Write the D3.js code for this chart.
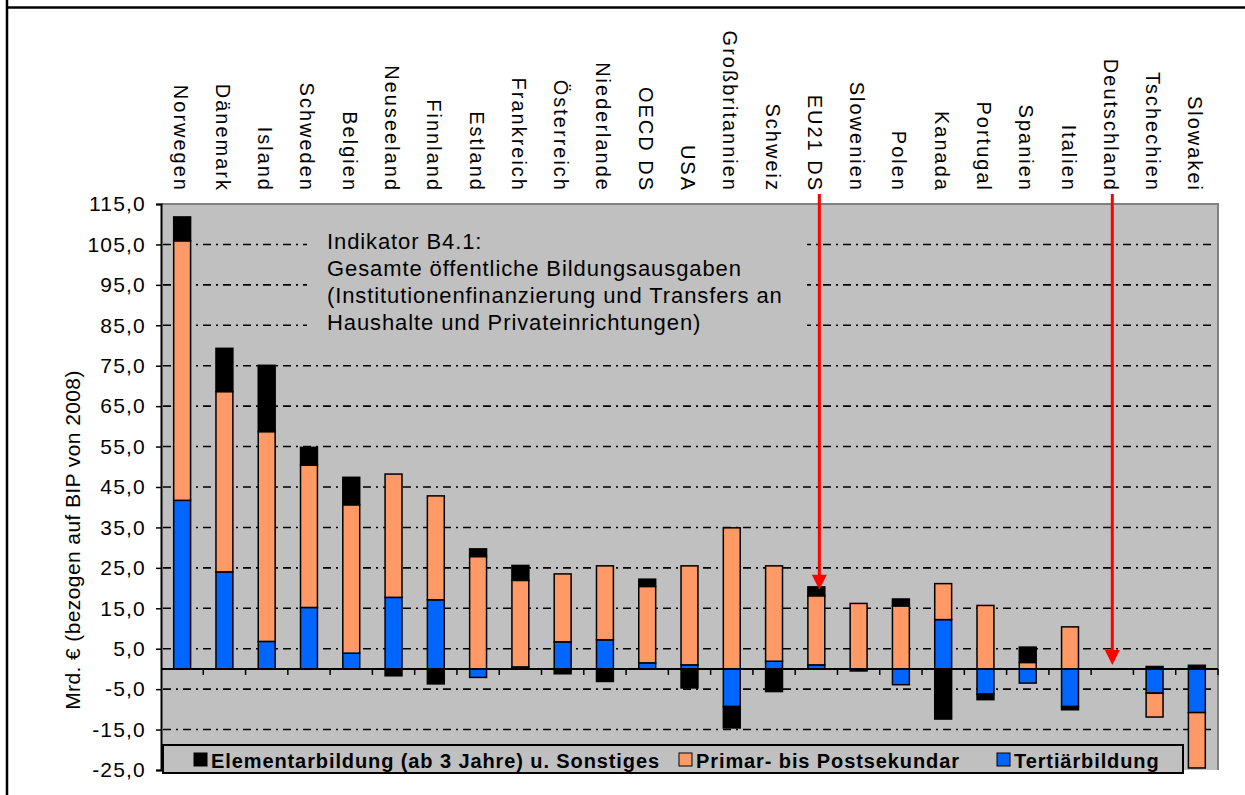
<!DOCTYPE html>
<html>
<head>
<meta charset="utf-8">
<script src="https://cdn.jsdelivr.net/npm/d3@7"></script>
<style>
  html, body { margin: 0; padding: 0; background: #fff; }
  svg { display: block; font-family: "Liberation Sans", Arial, sans-serif; }
</style>
</head>
<body>
<svg id="chart" width="1245" height="795"></svg>
<script>
// ---------- data ----------
const categories = ["Norwegen","Dänemark","Island","Schweden","Belgien","Neuseeland","Finnland","Estland","Frankreich","Österreich","Niederlande","OECD DS","USA","Großbritannien","Schweiz","EU21 DS","Slowenien","Polen","Kanada","Portugal","Spanien","Italien","Deutschland","Tschechien","Slowakei"];
const tertiar   = [41.7, 24.0, 6.8, 15.2, 3.9, 17.7, 17.1, -2.1, 0.5, 6.7, 7.2, 1.5, 1.0, -9.3, 1.9, 1.0, 0.0, -3.9, 12.2, -6.2, -3.5, -9.3, 0.0, -6.0, -10.8];
const primar    = [64.2, 44.6, 51.9, 35.2, 36.7, 30.5, 25.7, 27.8, 21.4, 16.8, 18.3, 18.9, 24.5, 34.9, 23.6, 17.1, 16.2, 15.6, 8.9, 15.7, 1.6, 10.4, 0.0, -5.9, -13.7];
const elementar = [5.9, 10.7, 16.4, 4.4, 6.8, -1.7, -3.7, 1.9, 3.7, -1.2, -3.1, 1.8, -4.7, -5.3, -5.6, 2.2, -0.5, 1.7, -12.4, -1.4, 3.8, -0.8, 0.0, 0.6, 0.9];
const seriesNames = ["Elementarbildung (ab 3 Jahre) u. Sonstiges", "Primar- bis Postsekundar", "Tertiärbildung"];
const yTicks = [-25, -15, -5, 5, 15, 25, 35, 45, 55, 65, 75, 85, 95, 105, 115];
const yTitle = "Mrd. € (bezogen auf BIP von 2008)";
const noteLines = ["Indikator B4.1:", "Gesamte öffentliche Bildungsausgaben", "(Institutionenfinanzierung und Transfers an", "Haushalte und Privateinrichtungen)"];
const arrowCats = ["EU21 DS", "Deutschland"];
const arrowTips = [19.6, 1.0];

// ---------- setup ----------
const colors = { tertiar: "#0066FF", primar: "#FF9966", elementar: "#000000" };
const svg = d3.select("#chart");
const L = 161, R = 1218, T = 204, B = 770;

const loc = d3.formatLocale({ decimal: ",", thousands: ".", grouping: [3], currency: ["", "€"], minus: "-" });
const fmt = loc.format(".1f");

const x = d3.scaleBand().domain(categories).range([L, R]).paddingInner(0.6).paddingOuter(0.3);
const step = x.step();
const cx = c => x(c) + x.bandwidth() / 2;
const y = d3.scaleLinear().domain([-25, 115]).range([B, T]);

// outer frame
svg.append("line").attr("x1", 7).attr("x2", 7).attr("y1", 0).attr("y2", 795).attr("stroke", "#000").attr("stroke-width", 2.5);
svg.append("line").attr("x1", 7).attr("x2", 1245).attr("y1", 7.5).attr("y2", 7.5).attr("stroke", "#000").attr("stroke-width", 2.5);

// plot background
svg.append("rect").attr("x", L).attr("y", T).attr("width", R - L).attr("height", B - T).attr("fill", "#C0C0C0");
svg.append("path").attr("d", `M${L},${T}H${R}V${B}`).attr("fill", "none").attr("stroke", "#808080").attr("stroke-width", 2);

// gridlines
svg.append("g").selectAll("line").data(yTicks.filter(v => v > -25 && v < 115)).join("line")
  .attr("x1", L + 2).attr("x2", R - 5)
  .attr("y1", d => y(d)).attr("y2", d => y(d))
  .attr("stroke", "#000").attr("stroke-width", 1.6).attr("stroke-dasharray", "8,5,2,5");

// note box (covers grid)
svg.append("rect").attr("x", 307).attr("y", 215).attr("width", 500).attr("height", 135).attr("fill", "#C0C0C0");
svg.append("g").selectAll("text").data(noteLines).join("text")
  .attr("x", 327).attr("y", (d, i) => 249 + i * 27)
  .attr("font-size", 22).attr("letter-spacing", 0.9).attr("fill", "#000").text(d => d);

// stacked bars
const rows = categories.map((c, i) => ({ cat: c, tertiar: tertiar[i], primar: primar[i], elementar: elementar[i] }));
const stack = d3.stack().keys(["tertiar", "primar", "elementar"]).offset(d3.stackOffsetDiverging);
const stacked = stack(rows);
svg.append("g").selectAll("g").data(stacked).join("g")
  .attr("fill", d => colors[d.key])
  .selectAll("rect").data(d => d.filter(p => p[1] - p[0] !== 0)).join("rect")
  .attr("x", d => x(d.data.cat))
  .attr("width", x.bandwidth())
  .attr("y", d => y(Math.max(d[0], d[1])))
  .attr("height", d => Math.abs(y(d[0]) - y(d[1])))
  .attr("stroke", "#000").attr("stroke-width", 1.5);

// zero line with category ticks
svg.append("line").attr("x1", L).attr("x2", R).attr("y1", y(0)).attr("y2", y(0)).attr("stroke", "#000").attr("stroke-width", 2);
svg.append("g").selectAll("line").data(categories).join("line")
  .attr("x1", d => x(d) - x.bandwidth() * 0.75 + step).attr("x2", d => x(d) - x.bandwidth() * 0.75 + step)
  .attr("y1", y(0)).attr("y2", y(0) + 6)
  .attr("stroke", "#000").attr("stroke-width", 1.5);

// y axis
const yAxis = svg.append("g").attr("transform", `translate(${L},0)`)
  .call(d3.axisLeft(y).tickValues(yTicks).tickFormat(fmt).tickSize(5).tickPadding(10));
yAxis.select(".domain").attr("stroke", "#000").attr("stroke-width", 2);
yAxis.selectAll(".tick line").attr("stroke", "#000").attr("stroke-width", 1.5);
yAxis.selectAll(".tick text").attr("font-size", 21).attr("letter-spacing", 1.2).attr("fill", "#000")
  .attr("font-family", "Liberation Sans, Arial, sans-serif");

// y title
svg.append("text").attr("transform", "translate(80,540) rotate(-90)")
  .attr("text-anchor", "middle").attr("font-size", 21).attr("letter-spacing", 0.4).attr("fill", "#000").text(yTitle);

// category labels
svg.append("g").selectAll("text").data(categories).join("text")
  .attr("transform", d => `translate(${cx(d)},192) rotate(90)`)
  .attr("text-anchor", "end").attr("dy", "8.5").attr("font-size", 20)
  .attr("letter-spacing", 2).attr("fill", "#000").text(d => d);

// red arrows
const arrowG = svg.append("g");
arrowCats.forEach((c, i) => {
  const ax = cx(c) + (c === "EU21 DS" ? 3 : 0);
  const tip = y(arrowTips[i]);
  arrowG.append("line").attr("x1", ax).attr("x2", ax).attr("y1", 194).attr("y2", tip - 12)
    .attr("stroke", "#FF0000").attr("stroke-width", 3);
  arrowG.append("path").attr("d", `M${ax - 7.5},${tip - 15}L${ax + 7.5},${tip - 15}L${ax},${tip}Z`).attr("fill", "#FF0000");
});

// legend
const lg = svg.append("g");
lg.append("rect").attr("x", 163).attr("y", 745).attr("width", 1020).attr("height", 28)
  .attr("fill", "#C0C0C0").attr("stroke", "#000").attr("stroke-width", 2);
const legendItems = [
  { name: seriesNames[0], color: colors.elementar, x: 194 },
  { name: seriesNames[1], color: colors.primar, x: 679 },
  { name: seriesNames[2], color: colors.tertiar, x: 997 }
];
legendItems.forEach(it => {
  lg.append("rect").attr("x", it.x).attr("y", 753).attr("width", 13).attr("height", 13)
    .attr("fill", it.color).attr("stroke", "#000").attr("stroke-width", 1);
  lg.append("text").attr("x", it.x + 17).attr("y", 768).attr("font-size", 20).attr("font-weight", "bold")
    .attr("letter-spacing", 0.9).attr("fill", "#000").text(it.name);
});
</script>
</body>
</html>
